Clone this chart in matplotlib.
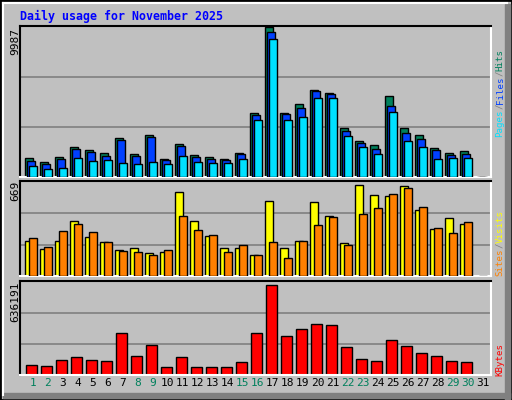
import matplotlib
matplotlib.use("Agg")
import matplotlib.pyplot as plt
from matplotlib.patches import Rectangle
from matplotlib.lines import Line2D

days = list(range(1, 32))
weekend = [1, 2, 8, 9, 15, 16, 22, 23, 29, 30]
hits = [1257, 992, 1323, 1984, 1786, 1587, 2579, 1521, 2778, 1190, 2183, 1455, 1323, 1190, 1587,
        4299, 9987, 4299, 4894, 5820, 5622, 3241, 2381, 2116, 5423, 3241, 2778, 1918, 1587, 1720, 0]
files = [1058, 860, 1190, 1852, 1653, 1389, 2447, 1389, 2646, 1124, 2050, 1323, 1190, 1124, 1521,
         4167, 9656, 4233, 4630, 5754, 5556, 3042, 2249, 1852, 4762, 2910, 2513, 1786, 1455, 1521, 0]
pages = [728, 529, 595, 1257, 1058, 1124, 926, 860, 992, 860, 1389, 992, 926, 926, 1190,
         3836, 9193, 3836, 4035, 5291, 5291, 2712, 1984, 1521, 4365, 2381, 1984, 1190, 1257, 1257, 0]
visits = [246, 190, 246, 393, 274, 239, 182, 196, 161, 168, 596, 393, 281, 196, 196,
          147, 533, 196, 246, 526, 428, 232, 646, 575, 568, 639, 470, 337, 414, 372, 0]
sites = [267, 203, 323, 372, 316, 239, 175, 168, 147, 182, 428, 330, 295, 168, 218,
         147, 239, 126, 246, 365, 421, 218, 442, 484, 582, 625, 491, 344, 309, 386, 0]
kbytes = [69688, 62944, 103408, 123640, 103408, 96664, 285496, 130384, 204568, 56200, 123640,
          56200, 56200, 56200, 89920, 285496, 615952, 265264, 312472, 346192, 339448, 191080,
          110152, 96664, 238288, 197824, 150616, 130384, 96664, 89920, 0]
max_hits, max_visits, max_kb = 9987, 669, 636191

BG = "#C0C0C0"
W, H = 512, 400
fig = plt.figure(figsize=(5.12, 4.0), dpi=100, facecolor=BG)
MONO = "DejaVu Sans Mono"

def px_ax(x0, y0, x1, y1):
    return fig.add_axes([x0 / W, 1 - y1 / H, (x1 - x0) / W, (y1 - y0) / H])

def ftext(x, y, s, **kw):
    fig.text(x / W, 1 - y / H, s, family=MONO, **kw)

# outer frame
fig.add_artist(Rectangle((0, 0), 1, 1, transform=fig.transFigure, fill=False, ec="black", lw=2))
fig.add_artist(Line2D([3 / W, 3 / W], [5 / H, 1 - 3 / H], transform=fig.transFigure, color="white", lw=1.5))
fig.add_artist(Line2D([3 / W, 1 - 5 / W], [1 - 3 / H, 1 - 3 / H], transform=fig.transFigure, color="white", lw=1.5))
fig.add_artist(Rectangle((1 - 7 / W, 0), 5 / W, 1 - 4 / H, transform=fig.transFigure, color="#808080"))
fig.add_artist(Rectangle((3 / W, 2 / H), 1 - 5 / W, 5 / H, transform=fig.transFigure, color="#808080"))

XL = (-0.353, 31.05)

def style(ax, ymax):
    ax.set_facecolor(BG)
    ax.set_xlim(*XL)
    ax.set_ylim(0, ymax * 1.01)
    ax.set_xticks([]); ax.set_yticks([])
    for v in (ymax / 3, 2 * ymax / 3):
        ax.axhline(v, color="#808080", lw=1.2, zorder=0)
    for s in ("left", "top"):
        ax.spines[s].set_color("black"); ax.spines[s].set_linewidth(1.5)
    for s in ("right", "bottom"):
        ax.spines[s].set_color("white"); ax.spines[s].set_linewidth(1.5)

x = [d - 1 for d in days]
ax1 = px_ax(20, 26, 491, 177)
style(ax1, max_hits)
ax1.bar(x, hits, width=0.49, align="edge", color="#00805C", ec="black", lw=1, zorder=2)
ax1.bar([i + 0.133 for i in x], files, width=0.49, align="edge", color="#0040FF", ec="black", lw=1, zorder=3)
ax1.bar([i + 0.27 for i in x], pages, width=0.49, align="edge", color="#00E0FF", ec="black", lw=1, zorder=4)

ax2 = px_ax(20, 181, 491, 276)
style(ax2, max_visits)
ax2.bar(x, visits, width=0.53, align="edge", color="#FFFF00", ec="black", lw=1, zorder=2)
ax2.bar([i + 0.27 for i in x], sites, width=0.49, align="edge", color="#FF8000", ec="black", lw=1, zorder=3)

ax3 = px_ax(20, 281, 491, 375)
style(ax3, max_kb)
ax3.bar([i + 0.05 for i in x], kbytes, width=0.71, align="edge", color="#FF0000", ec="black", lw=1, zorder=2)
for d in days:
    ax3.text(d - 1 + 0.51, -0.09, str(d), transform=ax3.get_xaxis_transform(), ha="center", va="center",
             family=MONO, fontsize=8, color="#00805C" if d in weekend else "black")

ftext(20, 16, "Daily usage for November 2025", color="#0000FF", fontsize=8.4, fontweight="bold", va="center")
ftext(15, 28, str(max_hits), rotation=90, ha="center", va="top", fontsize=8)
ftext(15, 181, str(max_visits), rotation=90, ha="center", va="top", fontsize=8)
ftext(15, 281, str(max_kb), rotation=90, ha="center", va="top", fontsize=8)

LFS = 6.6
def vlegend(xc, ybottom, parts):
    cw = LFS * 100 / 72 * 0.602
    y = ybottom
    for s, c in parts:
        ftext(xc, y, s, rotation=90, ha="center", va="bottom", fontsize=LFS, color=c)
        y -= cw * len(s)

vlegend(500, 137, [("Pages", "#00E0FF"), ("/", "#808080"), ("Files", "#0040FF"), ("/", "#808080"), ("Hits", "#00805C")])
vlegend(500, 276, [("Sites", "#FF8000"), ("/", "#808080"), ("Visits", "#FFFF00")])
vlegend(500, 376, [("KBytes", "#FF0000")])

fig.savefig("out.png", dpi=100, facecolor=BG)
